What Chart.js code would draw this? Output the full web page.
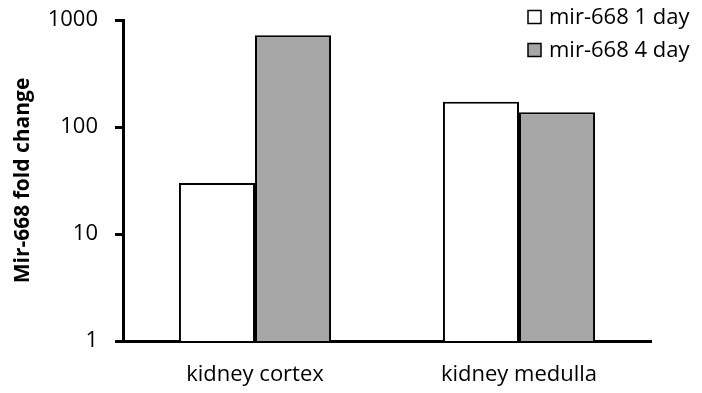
<!DOCTYPE html>
<html>
<head>
<meta charset="utf-8">
<script src="https://cdn.jsdelivr.net/npm/chart.js@4.4.1/dist/chart.umd.min.js"></script>
<style>
  html, body { margin: 0; padding: 0; background: #fff; }
  #wrap { width: 702px; height: 393px; }
</style>
</head>
<body>
<div id="wrap"><canvas id="c" width="702" height="393"></canvas></div>
<script>
const categories = ['kidney cortex', 'kidney medulla'];
const day1Values = [30, 172];
const day4Values = [720, 137];
const seriesLabels = ['mir-668 1 day', 'mir-668 4 day'];
const yTicks = [1, 10, 100, 1000];

const FONT = "'Open Sans', 'Liberation Sans', sans-serif";

// Legend drawn in the top-right corner, overlapping the plot area
const cornerLegend = {
  id: 'cornerLegend',
  afterDraw(chart) {
    const ctx = chart.ctx;
    ctx.save();
    ctx.font = '22px ' + FONT;
    ctx.textBaseline = 'middle';
    ctx.textAlign = 'left';
    chart.data.datasets.forEach((ds, i) => {
      const y = 17 + i * 33;
      const x = 528;
      ctx.fillStyle = ds.backgroundColor;
      ctx.fillRect(x, y - 6.5, 13, 13);
      ctx.strokeStyle = '#000';
      ctx.lineWidth = 1.5;
      ctx.strokeRect(x, y - 6.5, 13, 13);
      ctx.fillStyle = '#000';
      ctx.fillText(ds.label, x + 21, y + 1);
    });
    ctx.restore();
  }
};

new Chart(document.getElementById('c'), {
  type: 'bar',
  data: {
    labels: categories,
    datasets: [
      { label: seriesLabels[0], data: day1Values, backgroundColor: '#ffffff', borderColor: '#000', borderWidth: 2 },
      { label: seriesLabels[1], data: day4Values, backgroundColor: '#a6a6a6', borderColor: '#000', borderWidth: 2 }
    ]
  },
  options: {
    responsive: false,
    animation: false,
    layout: { padding: { top: 20, right: 51, left: 0, bottom: 0 } },
    datasets: { bar: { categoryPercentage: 0.576, barPercentage: 1.0 } },
    plugins: { legend: { display: false }, tooltip: { enabled: false } },
    scales: {
      x: {
        grid: { display: false, drawTicks: false },
        border: { display: true, color: '#000', width: 3 },
        ticks: { color: '#000', font: { family: FONT, size: 22 }, padding: 21 },
        afterFit(scale) {
          scale.height = 52;
          scale.paddingLeft = 0;
          scale.paddingRight = 0;
        }
      },
      y: {
        type: 'logarithmic',
        min: 1,
        max: 1000,
        afterBuildTicks(scale) { scale.ticks = yTicks.map(v => ({ value: v })); },
        grid: { display: true, drawOnChartArea: false, drawTicks: true, tickLength: 8, lineWidth: 3, color: '#000' },
        border: { display: true, color: '#000', width: 3 },
        ticks: {
          color: '#000', font: { family: FONT, size: 22 }, padding: 17,
          callback: (v) => String(v)
        },
        title: {
          display: true, text: 'Mir-668 fold change', color: '#000',
          font: { family: FONT, size: 21, weight: 'bold' }, padding: { top: 10, bottom: 0 }
        },
        afterFit(scale) {
          scale.width = 123;
          scale.paddingTop = 0;
          scale.paddingBottom = 0;
        }
      }
    }
  },
  plugins: [cornerLegend]
});
</script>
</body>
</html>
